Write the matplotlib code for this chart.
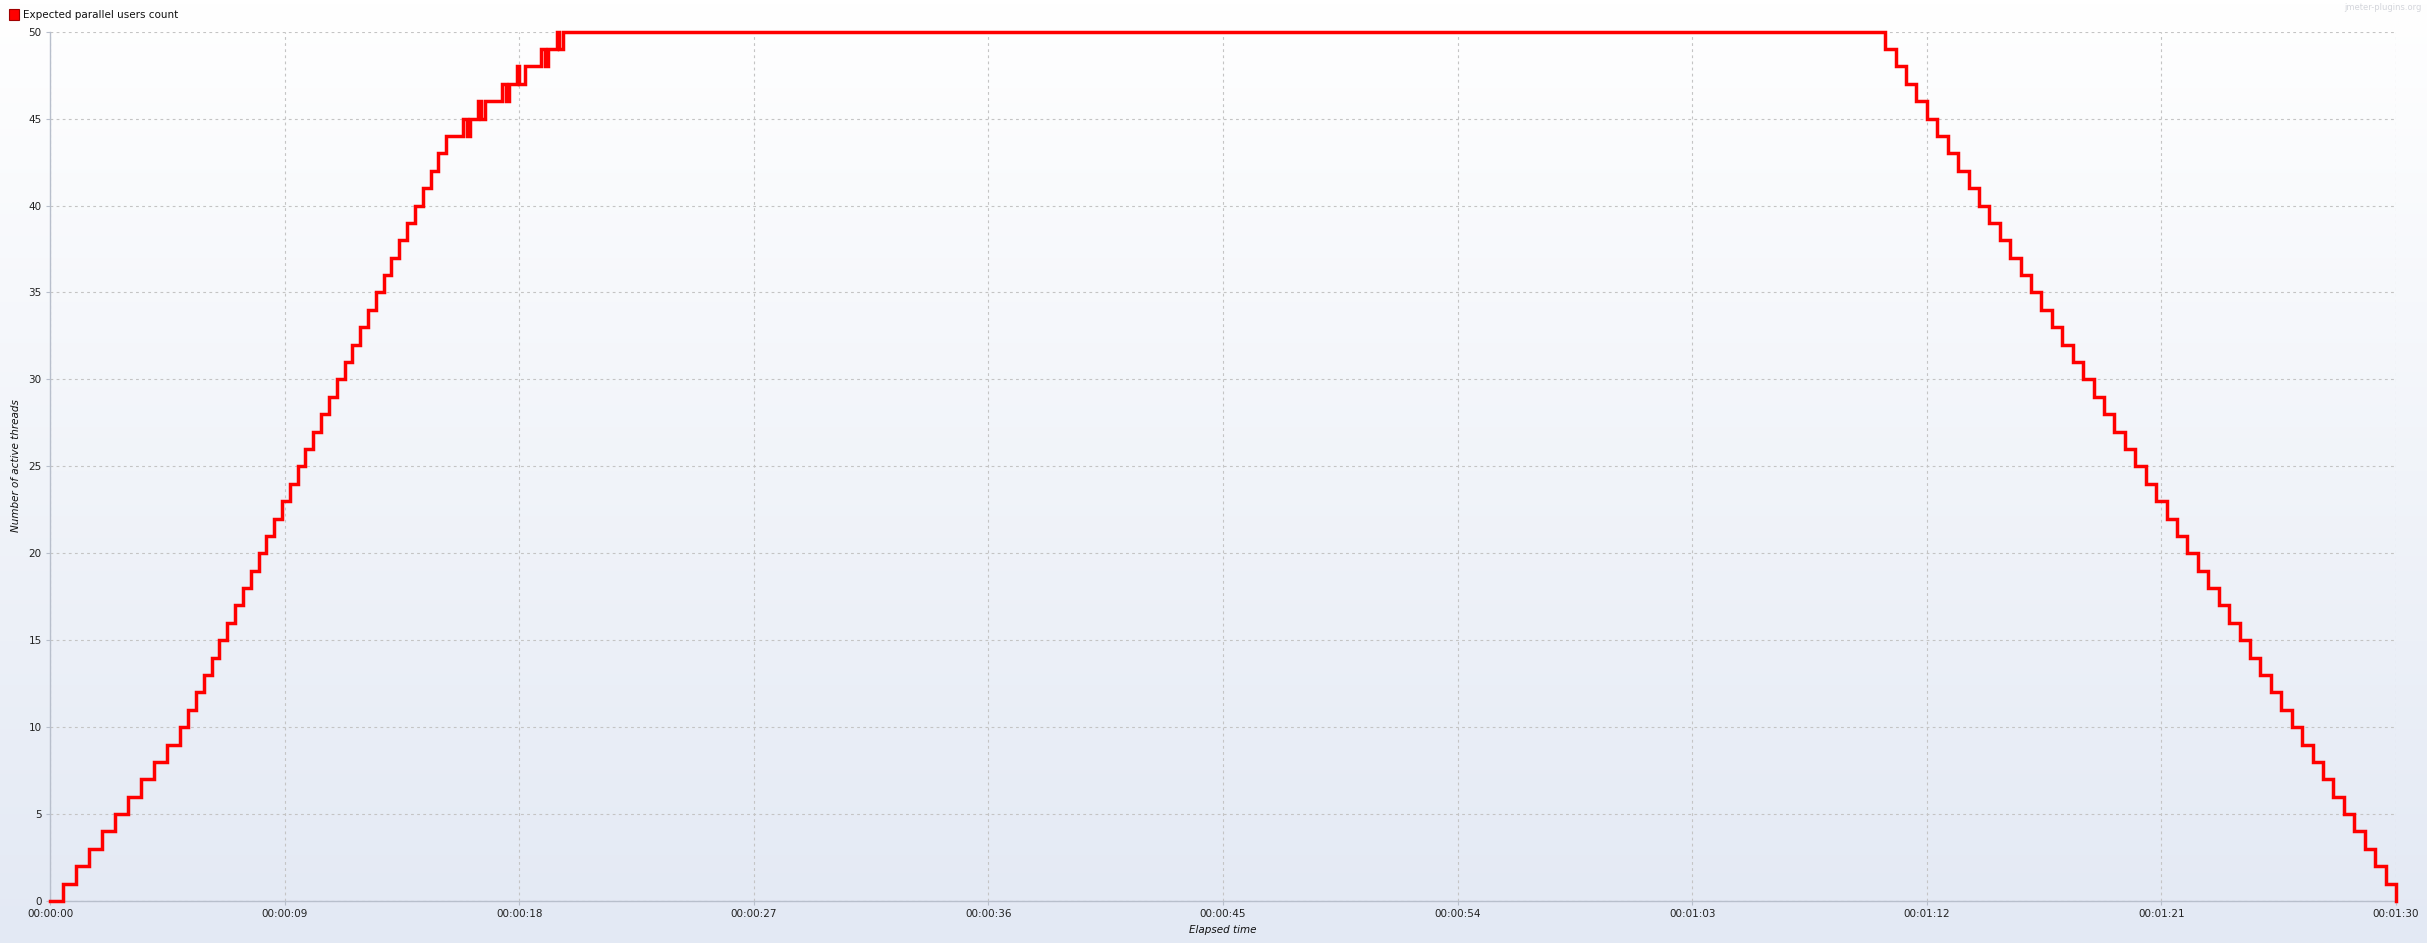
import numpy as np
import matplotlib
matplotlib.use('Agg')
import matplotlib.pyplot as plt
from matplotlib.patches import Rectangle
from matplotlib.ticker import FuncFormatter, MultipleLocator

# step points: time in seconds, users after that moment
ramp_up_t = [0.0, 0.5, 1.0, 1.5, 2.0, 2.5, 3.0, 3.5, 4.0, 4.5, 5.0,
             5.3, 5.6, 5.9, 6.2, 6.5, 6.8, 7.1, 7.4, 7.7, 8.0,
             8.3, 8.6, 8.9, 9.2, 9.5, 9.8, 10.1, 10.4, 10.7, 11.0,
             11.3, 11.6, 11.9, 12.2, 12.5, 12.8, 13.1, 13.4, 13.7, 14.0,
             14.3, 14.6, 14.9, 15.2]
ramp_up_u = [0, 1, 2, 3, 4, 5, 6, 7, 8, 9, 10,
             11, 12, 13, 14, 15, 16, 17, 18, 19, 20,
             21, 22, 23, 24, 25, 26, 27, 28, 29, 30,
             31, 32, 33, 34, 35, 36, 37, 38, 39, 40,
             41, 42, 43, 44]

# the jittery part near the top of the ramp
jitter_t = [15.84, 16.01, 16.12, 16.41, 16.52, 16.67, 17.33, 17.49, 17.59,
            17.90, 17.99, 18.21, 18.82, 18.99, 19.10, 19.44, 19.52, 19.69]
jitter_u = [45, 44, 45, 46, 45, 46, 47, 46, 47,
            48, 47, 48, 49, 48, 49, 50, 49, 50]

ramp_down_t = [70.4, 70.8, 71.2, 71.6, 72.0, 72.4, 72.8, 73.2, 73.6, 74.0,
               74.4, 74.8, 75.2, 75.6, 76.0, 76.4, 76.8, 77.2, 77.6, 78.0,
               78.4, 78.8, 79.2, 79.6, 80.0, 80.4, 80.8, 81.2, 81.6, 82.0,
               82.4, 82.8, 83.2, 83.6, 84.0, 84.4, 84.8, 85.2, 85.6, 86.0,
               86.4, 86.8, 87.2, 87.6, 88.0, 88.4, 88.8, 89.2, 89.6, 90.0]
ramp_down_u = [49, 48, 47, 46, 45, 44, 43, 42, 41, 40,
               39, 38, 37, 36, 35, 34, 33, 32, 31, 30,
               29, 28, 27, 26, 25, 24, 23, 22, 21, 20,
               19, 18, 17, 16, 15, 14, 13, 12, 11, 10,
               9, 8, 7, 6, 5, 4, 3, 2, 1, 0]

times = ramp_up_t + jitter_t + ramp_down_t
users = ramp_up_u + jitter_u + ramp_down_u

W, H = 2427, 943
fig = plt.figure(figsize=(W/100.0, H/100.0), dpi=100)

# background gradient over the whole picture
axbg = fig.add_axes([0, 0, 1, 1])
grad = np.linspace(0, 1, 256).reshape(-1, 1)
top = np.array([1.0, 1.0, 1.0])
bot = np.array([227, 233, 244]) / 255.0
img = top + (bot - top) * grad[:, :, None]
axbg.imshow(img, aspect='auto', extent=[0, 1, 0, 1], origin='upper')
axbg.set_axis_off()

left, right, top_px, bottom_px = 50, 2396, 31.7, 901
ax = fig.add_axes([left/W, 1 - bottom_px/H, (right-left)/W, (bottom_px-top_px)/H])
ax.patch.set_alpha(0)

ax.plot(times, users, drawstyle='steps-post', color='#ff0000', lw=2.5,
        solid_joinstyle='miter', clip_on=False, zorder=5)

ax.set_xlim(0, 90)
ax.set_ylim(0, 50)
ax.xaxis.set_major_locator(MultipleLocator(9))
ax.yaxis.set_major_locator(MultipleLocator(5))

def hms(x, pos):
    s = int(round(x))
    return '%02d:%02d:%02d' % (s // 3600, (s // 60) % 60, s % 60)

ax.xaxis.set_major_formatter(FuncFormatter(hms))

ax.grid(True, color='#c4c4c4', linestyle=(0, (2.5, 3)), linewidth=0.8)
for side in ['top', 'right']:
    ax.spines[side].set_visible(False)
for side in ['left', 'bottom']:
    ax.spines[side].set_color('#b8bfcc')
    ax.spines[side].set_linewidth(1.0)
ax.tick_params(axis='both', colors='#b8bfcc', labelcolor='#222222',
               labelsize=7.5, length=3, width=0.8, pad=3)

# legend drawn like the jmeter one
fig.patches.append(Rectangle((9/W, 1 - 19.5/H), 10/W, 10/H, transform=fig.transFigure,
                             facecolor='#ff0000', edgecolor='#a00000', lw=0.8))
fig.text(23/W, 1 - 15/H, 'Expected parallel users count', fontsize=7.5,
         color='#111111', ha='left', va='center')

fig.text(2422/W, 1 - 7/H, 'jmeter-plugins.org', fontsize=6, color='#d4d6dc',
         ha='right', va='center')

fig.text(16/W, 1 - 466/H, 'Number of active threads', fontsize=7.5, style='italic',
         rotation=90, ha='center', va='center', color='#111111')
fig.text(1223/W, 1 - 930/H, 'Elapsed time', fontsize=7.5, style='italic',
         ha='center', va='center', color='#111111')

fig.savefig('out.png', dpi=100)
